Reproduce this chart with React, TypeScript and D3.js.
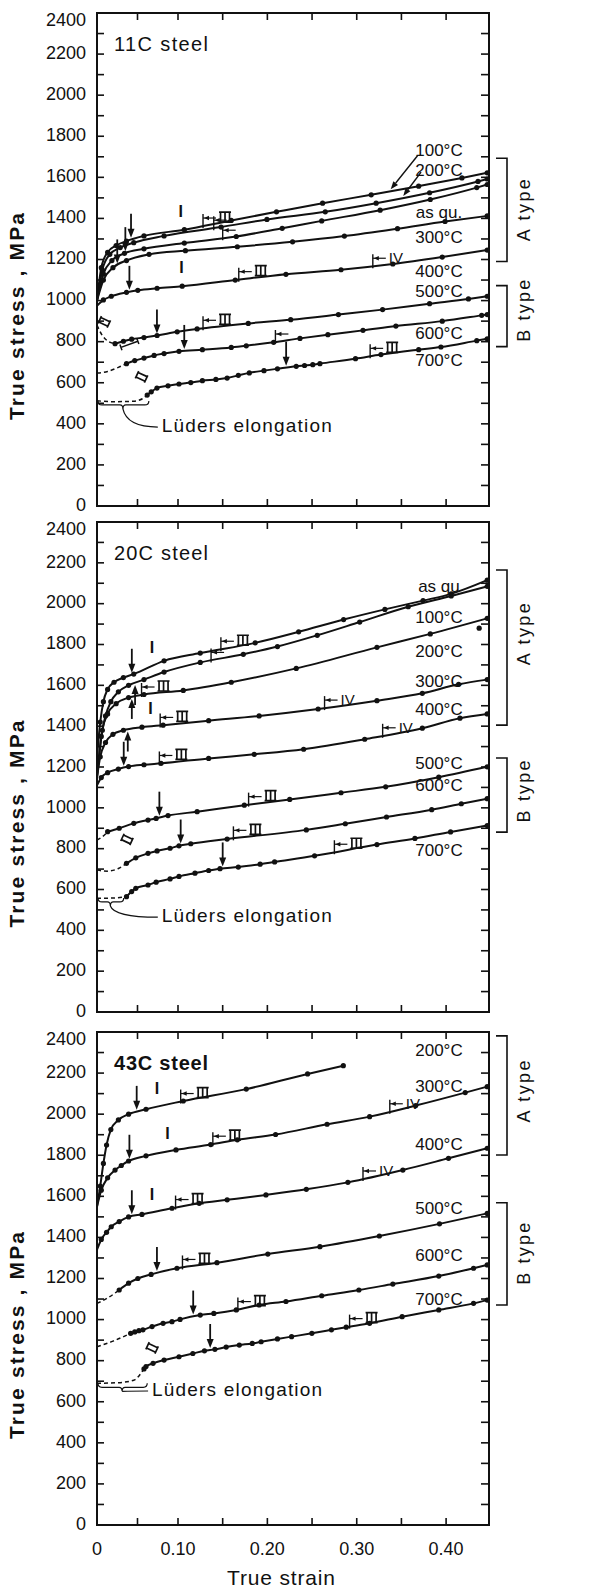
import React from 'react';
import * as d3 from 'd3';

type P = [number, number];

const strainTicks = [0, 0.1, 0.2, 0.3, 0.4];
const strainTickLabels = ['0', '0.10', '0.20', '0.30', '0.40'];
const stressTicks = [0, 200, 400, 600, 800, 1000, 1200, 1400, 1600, 1800, 2000, 2200, 2400];

// ---------- 11C steel ----------
const c11_100: P[] = [[0,1000],[0.0053,1160],[0.0131,1235],[0.0236,1268],[0.0364,1290],[0.058,1315],[0.1071,1345],[0.1596,1390],[0.2102,1432],[0.2618,1474],[0.3162,1515],[0.3693,1557],[0.4177,1597],[0.446,1622]];
const c11_200: P[] = [[0,1000],[0.0066,1150],[0.0158,1225],[0.0287,1258],[0.0454,1282],[0.0828,1315],[0.1482,1358],[0.1995,1395],[0.2648,1432],[0.3217,1474],[0.3815,1525],[0.4357,1580],[0.446,1592]];
const c11_asqu: P[] = [[0,1000],[0.0079,1130],[0.0184,1195],[0.0339,1230],[0.058,1252],[0.1071,1280],[0.1652,1312],[0.2166,1352],[0.2608,1388],[0.3262,1440],[0.3823,1492],[0.4343,1550],[0.446,1565]];
const c11_300: P[] = [[0,1000],[0.0079,1100],[0.0197,1160],[0.0364,1195],[0.0643,1225],[0.1083,1243],[0.1664,1262],[0.2282,1286],[0.2862,1314],[0.3456,1350],[0.3988,1385],[0.446,1412]];
const c11_400: P[] = [[0,975],[0.0079,1003],[0.0176,1021],[0.0364,1040],[0.0504,1050],[0.0742,1060],[0.1047,1070],[0.1641,1100],[0.2208,1128],[0.2824,1150],[0.3404,1178],[0.3957,1212],[0.446,1246]];
const c11_500d: P[] = [[0,880],[0.0066,830],[0.0144,800],[0.0223,790]];
const c11_500: P[] = [[0.0223,790],[0.0326,802],[0.0428,812],[0.058,820],[0.0742,830],[0.099,848],[0.1214,862],[0.1786,889],[0.2261,907],[0.2795,932],[0.3289,956],[0.3815,985],[0.425,1008],[0.446,1021]];
const c11_600d: P[] = [[0,647],[0.0131,655],[0.0264,675],[0.0364,693]];
const c11_600: P[] = [[0.0364,693],[0.0466,708],[0.058,720],[0.0705,733],[0.0828,742],[0.1011,753],[0.1273,761],[0.1596,772],[0.1764,780],[0.207,797],[0.2365,816],[0.2677,834],[0.307,855],[0.3438,876],[0.3957,900],[0.4398,928],[0.446,932]];
const c11_700d: P[] = [[0,512],[0.02,508],[0.045,510],[0.056,522],[0.062,540]];
const c11_700: P[] = [[0.062,540],[0.067,556],[0.074,574],[0.0877,585],[0.1011,594],[0.1143,601],[0.1273,610],[0.1424,616],[0.155,623],[0.1675,636],[0.1798,648],[0.1962,659],[0.2113,668],[0.2323,680],[0.2416,684],[0.2508,688],[0.2588,693],[0.2986,717],[0.3271,737],[0.3693,761],[0.3942,774],[0.4343,805],[0.446,814]];

const t11Labels: [string, number, number][] = [['100°C',0.392,1728],['200°C',0.392,1627],['as qu.',0.392,1424],['300°C',0.392,1302],['400°C',0.392,1137],['500°C',0.392,1039],['600°C',0.392,834],['700°C',0.392,702]];
// pointer: [from strain, from stress, series index, target strain]
const t11Pointers: [number, number, number, number][] = [[0.368,1705,0,0.338],[0.372,1625,1,0.352]];
const t11Arrows: [number, number][] = [[0,0.042],[2,0.035],[3,0.025],[4,0.04],[5,0.074],[6,0.107],[7,0.221]];
const t11Markers: [number, number, string][] = [[0,0.128,'III'],[1,0.14,''],[2,0.15,''],[4,0.168,'III'],[4,0.318,'IV'],[5,0.128,'III'],[6,0.209,''],[7,0.315,'III']];
const t11RomanI: [number, number][] = [[0,0.103],[4,0.104]];
const t11RomanII: P[] = [[0.009,896],[0.055,629]];
const t11RomanIb: P[] = [[0.04,787]];

// ---------- 20C steel ----------
const c20_asqu: P[] = [[0,1250],[0.004,1420],[0.0079,1520],[0.0131,1580],[0.021,1615],[0.0326,1638],[0.0454,1655],[0.0828,1720],[0.1249,1758],[0.1864,1808],[0.235,1862],[0.2853,1922],[0.3315,1972],[0.3742,2015],[0.4057,2048],[0.446,2115]];
const c20_100: P[] = [[0,1150],[0.0053,1350],[0.0105,1450],[0.0171,1520],[0.0264,1568],[0.039,1600],[0.058,1628],[0.0828,1665],[0.1249,1712],[0.1731,1752],[0.2113,1790],[0.2558,1845],[0.3033,1910],[0.3576,1985],[0.4057,2038],[0.446,2085]];
const c20_200: P[] = [[0,1150],[0.0066,1380],[0.0131,1460],[0.0236,1510],[0.039,1540],[0.058,1555],[0.1059,1575],[0.1596,1615],[0.2323,1683],[0.3226,1786],[0.3823,1852],[0.446,1928]];
const c20_300: P[] = [[0,1150],[0.004,1250],[0.0105,1320],[0.0197,1360],[0.0326,1380],[0.0555,1395],[0.0816,1405],[0.1343,1427],[0.1908,1450],[0.2568,1484],[0.3226,1525],[0.3734,1561],[0.414,1605],[0.446,1628]];
const c20_400: P[] = [[0,1110],[0.0053,1148],[0.0131,1172],[0.0264,1190],[0.039,1202],[0.058,1211],[0.0791,1218],[0.1343,1242],[0.1853,1262],[0.2406,1287],[0.3089,1336],[0.3734,1390],[0.4155,1439],[0.446,1460]];
const c20_500d: P[] = [[0,842],[0.0066,858],[0.0131,883]];
const c20_500: P[] = [[0.0131,883],[0.0274,900],[0.0454,924],[0.063,940],[0.073,948],[0.0877,962],[0.1214,981],[0.1742,1013],[0.225,1041],[0.2824,1074],[0.3324,1103],[0.3918,1150],[0.446,1201]];
const c20_600d: P[] = [[0,695],[0.0131,690],[0.0264,703],[0.0364,728]];
const c20_600: P[] = [[0.0364,728],[0.0479,755],[0.063,777],[0.0742,789],[0.0902,802],[0.1011,814],[0.1143,824],[0.155,847],[0.2436,892],[0.2872,922],[0.3333,955],[0.3839,991],[0.417,1020],[0.446,1045]];
const c20_700d: P[] = [[0,557],[0.0197,558],[0.0364,565]];
const c20_700: P[] = [[0.0364,565],[0.0428,590],[0.0479,606],[0.063,622],[0.073,636],[0.0902,652],[0.1011,664],[0.119,680],[0.1343,693],[0.147,702],[0.1675,710],[0.1919,724],[0.2081,735],[0.2528,765],[0.3226,820],[0.3651,850],[0.405,882],[0.446,913]];
const c20_stray: P[] = [[0.437,1880]];

const t20Labels: [string, number, number][] = [['as qu',0.392,2081],['100°C',0.392,1925],['200°C',0.392,1763],['300°C',0.392,1616],['400°C',0.392,1479],['500°C',0.392,1210],['600°C',0.392,1102],['700°C',0.392,788]];
const t20Arrows: [number, number][] = [[0,0.043],[4,0.033],[5,0.077],[6,0.103],[7,0.15]];
const t20ArrowsUp: [number, number][] = [[1,0.047],[2,0.043],[3,0.038]];
const t20Markers: [number, number, string][] = [[0,0.148,'III'],[1,0.137,''],[2,0.055,'III'],[3,0.078,'III'],[3,0.264,'IV'],[4,0.077,'III'],[4,0.329,'IV'],[5,0.179,'III'],[6,0.162,'III'],[7,0.275,'III']];
const t20RomanI: [number, number][] = [[0,0.068],[3,0.066]];
const t20RomanII: P[] = [[0.037,845]];
const t20RomanIb: P[] = [];

// ---------- 43C steel ----------
const c43_200: P[] = [[0,1550],[0.004,1650],[0.0079,1760],[0.0118,1850],[0.0171,1925],[0.0264,1972],[0.039,2000],[0.0605,2024],[0.1059,2064],[0.1764,2122],[0.245,2196],[0.285,2236]];
const c43_300: P[] = [[0,1550],[0.0053,1630],[0.0131,1690],[0.0223,1728],[0.03,1750],[0.039,1772],[0.0605,1797],[0.0975,1826],[0.1366,1852],[0.1664,1875],[0.2092,1901],[0.2668,1951],[0.3144,1988],[0.366,2042],[0.4214,2105],[0.446,2134]];
const c43_400: P[] = [[0,1340],[0.0053,1390],[0.0118,1425],[0.0176,1452],[0.0274,1477],[0.039,1500],[0.0555,1512],[0.0926,1542],[0.1237,1566],[0.155,1583],[0.1984,1607],[0.2436,1634],[0.2901,1668],[0.3516,1728],[0.4027,1785],[0.446,1834]];
const c43_500d: P[] = [[0,1079],[0.0131,1105],[0.0274,1144]];
const c43_500: P[] = [[0.0274,1144],[0.039,1177],[0.0504,1200],[0.0668,1220],[0.0987,1250],[0.1436,1277],[0.2005,1319],[0.2588,1355],[0.3253,1407],[0.3926,1466],[0.446,1517]];
const c43_600d: P[] = [[0,868],[0.0197,895],[0.0415,933]];
const c43_600: P[] = [[0.0415,933],[0.0466,940],[0.0517,946],[0.0567,950],[0.068,966],[0.0816,982],[0.0926,990],[0.1023,1001],[0.1249,1022],[0.1401,1030],[0.1652,1047],[0.1908,1071],[0.2208,1088],[0.2608,1116],[0.3024,1144],[0.3404,1173],[0.3918,1212],[0.4307,1250],[0.446,1266]];
const c43_700d: P[] = [[0,690],[0.0264,693],[0.0454,705],[0.058,760]];
const c43_700: P[] = [[0.058,760],[0.0605,771],[0.0692,787],[0.0828,803],[0.1011,819],[0.1166,835],[0.1296,848],[0.1413,855],[0.1539,866],[0.1686,876],[0.1831,884],[0.193,892],[0.2113,906],[0.2271,917],[0.2498,933],[0.2717,950],[0.2882,963],[0.3144,982],[0.3508,1014],[0.3918,1047],[0.4307,1079],[0.446,1095]];

const t43Labels: [string, number, number][] = [['200°C',0.392,2303],['300°C',0.392,2128],['400°C',0.392,1845],['500°C',0.392,1538],['600°C',0.392,1305],['700°C',0.392,1091]];
const t43Arrows: [number, number][] = [[0,0.049],[1,0.04],[2,0.043],[3,0.074],[4,0.117],[5,0.136]];
const t43Markers: [number, number, string][] = [[0,0.103,'III'],[1,0.139,'III'],[1,0.337,'IV'],[2,0.097,'III'],[2,0.307,'IV'],[3,0.105,'III'],[4,0.167,'III'],[5,0.292,'III']];
const t43RomanI: [number, number][] = [[0,0.074],[1,0.087],[2,0.068]];
const t43RomanII: P[] = [[0.068,862]];
const t43RomanIb: P[] = [];

interface Series { solid: P[]; dashed?: P[] }
interface PanelCfg {
  title: string; bold: boolean; top: number; bottom: number;
  series: Series[]; labels: [string, number, number][];
  pointers: [number, number, number, number][];
  arrowsDown: [number, number][]; arrowsUp: [number, number][]; markers: [number, number, string][];
  romanI: [number, number][]; romanII: P[]; romanIb: P[]; stray: P[];
  luders: { end: number; at: number; text: P };
  brackets: { name: string; hi: number; lo: number; mid: number }[];
}

const panels: PanelCfg[] = [
  {
    title: '11C steel', bold: false, top: 13, bottom: 506,
    series: [{ solid: c11_100 }, { solid: c11_200 }, { solid: c11_asqu }, { solid: c11_300 }, { solid: c11_400 },
      { solid: c11_500, dashed: c11_500d }, { solid: c11_600, dashed: c11_600d }, { solid: c11_700, dashed: c11_700d }],
    labels: t11Labels, pointers: t11Pointers, arrowsDown: t11Arrows, arrowsUp: [], markers: t11Markers,
    romanI: t11RomanI, romanII: t11RomanII, romanIb: t11RomanIb, stray: [],
    luders: { end: 0.064, at: 492, text: [0.08, 360] },
    brackets: [{ name: 'A type', hi: 1693, lo: 1190, mid: 1440 }, { name: 'B type', hi: 1073, lo: 776, mid: 950 }],
  },
  {
    title: '20C steel', bold: false, top: 522, bottom: 1012,
    series: [{ solid: c20_asqu }, { solid: c20_100 }, { solid: c20_200 }, { solid: c20_300 }, { solid: c20_400 },
      { solid: c20_500, dashed: c20_500d }, { solid: c20_600, dashed: c20_600d }, { solid: c20_700, dashed: c20_700d }],
    labels: t20Labels, pointers: [], arrowsDown: t20Arrows, arrowsUp: t20ArrowsUp, markers: t20Markers,
    romanI: t20RomanI, romanII: t20RomanII, romanIb: t20RomanIb, stray: c20_stray,
    luders: { end: 0.033, at: 539, text: [0.08, 440] },
    brackets: [{ name: 'A type', hi: 2165, lo: 1405, mid: 1850 }, { name: 'B type', hi: 1244, lo: 881, mid: 1080 }],
  },
  {
    title: '43C steel', bold: true, top: 1032, bottom: 1525,
    series: [{ solid: c43_200 }, { solid: c43_300 }, { solid: c43_400 },
      { solid: c43_500, dashed: c43_500d }, { solid: c43_600, dashed: c43_600d }, { solid: c43_700, dashed: c43_700d }],
    labels: t43Labels, pointers: [], arrowsDown: t43Arrows, arrowsUp: [], markers: t43Markers,
    romanI: t43RomanI, romanII: t43RomanII, romanIb: t43RomanIb, stray: [],
    luders: { end: 0.062, at: 670, text: [0.068, 628] },
    brackets: [{ name: 'A type', hi: 2381, lo: 1801, mid: 2110 }, { name: 'B type', hi: 1569, lo: 1071, mid: 1320 }],
  },
];

const W = 603, H = 1589;
const X0 = 97, X1 = 489;
const INK = '#111';
const SANS = '"Liberation Sans", Arial, sans-serif';
const x = d3.scaleLinear().domain([0, 0.1, 0.448]).range([X0, 178, X1]);

function valueAt(pts: P[], s: number): number {
  if (s <= pts[0][0]) return pts[0][1];
  for (let i = 1; i < pts.length; i++) {
    if (s <= pts[i][0]) {
      const [a, b] = [pts[i - 1], pts[i]];
      return a[1] + (b[1] - a[1]) * (s - a[0]) / (b[0] - a[0]);
    }
  }
  return pts[pts.length - 1][1];
}

function Ill({ cx, cy, n, rot = 0 }: { cx: number; cy: number; n: number; rot?: number }) {
  const w = n === 3 ? 12 : 8, h = 10;
  const bars = n === 3 ? [1.5, 6, 10.5] : [1.5, 6.5];
  let d = `M0,0H${w}M0,${h}H${w}`;
  bars.forEach(b => { d += `M${b},0V${h}`; });
  return (
    <path transform={`translate(${cx},${cy}) rotate(${rot}) translate(${-w / 2},${-h / 2})`} d={d}
      fill="none" stroke={INK} strokeWidth={1.7} />
  );
}

function Panel({ cfg, last }: { cfg: PanelCfg; last: boolean }) {
  const y = d3.scaleLinear().domain([0, 2400]).range([cfg.bottom, cfg.top]);
  const line = d3.line<P>().x(d => x(d[0])).y(d => y(d[1])).curve(d3.curveMonotoneX);
  const minorY = d3.range(100, 2400, 100);
  const minorX = d3.range(0.05, 0.44, 0.05);
  const mid = (cfg.top + cfg.bottom) / 2;
  const at = (si: number, s: number) => y(valueAt(cfg.series[si].solid, s));
  const lx = x(cfg.luders.end), ly = y(cfg.luders.at);
  const bx = x(0), bm = (bx + lx) / 2;
  const tx = x(cfg.luders.text[0]), ty = y(cfg.luders.text[1]);
  return (
    <g>
      <rect x={X0} y={cfg.top} width={X1 - X0} height={cfg.bottom - cfg.top} fill="none" stroke={INK} strokeWidth={2} />
      {minorY.map(v => (
        <g key={'y' + v}>
          <line x1={X0} x2={X0 + 7} y1={y(v)} y2={y(v)} stroke={INK} strokeWidth={1.6} />
          <line x1={X1} x2={X1 - 8} y1={y(v)} y2={y(v)} stroke={INK} strokeWidth={1.6} />
        </g>
      ))}
      {minorX.map(v => (
        <g key={'x' + v}>
          <line x1={x(v)} x2={x(v)} y1={cfg.top} y2={cfg.top + 7} stroke={INK} strokeWidth={1.6} />
          <line x1={x(v)} x2={x(v)} y1={cfg.bottom} y2={cfg.bottom - 7} stroke={INK} strokeWidth={1.6} />
        </g>
      ))}
      {stressTicks.map(v => (
        <text key={'l' + v} x={86} y={y(v) + (v === 2400 ? 8 : 0)} textAnchor="end" dominantBaseline="middle"
          fontFamily={SANS} fontSize={18} fill={INK}>{v}</text>
      ))}
      {last && strainTicks.map((v, i) => (
        <text key={'s' + v} x={x(v)} y={1550} textAnchor="middle" dominantBaseline="middle"
          fontFamily={SANS} fontSize={18} fill={INK}>{strainTickLabels[i]}</text>
      ))}
      <text transform={`translate(18,${mid + 57}) rotate(-90)`} textAnchor="middle" dominantBaseline="middle"
        fontFamily={SANS} fontSize={21} fontWeight="bold" fill={INK} textLength={207} lengthAdjust="spacing">True stress , MPa</text>
      <text x={114} y={cfg.top + 38} fontFamily={SANS} fontSize={20} fontWeight={cfg.bold ? 'bold' : 'normal'} fill={INK}
        textLength={94} lengthAdjust="spacing">{cfg.title}</text>

      {cfg.series.map((s, i) => (
        <g key={'c' + i}>
          {s.dashed && <path d={line(s.dashed) || ''} fill="none" stroke={INK} strokeWidth={1.5} strokeDasharray="4,3" />}
          <path d={line(s.solid) || ''} fill="none" stroke={INK} strokeWidth={2} />
          {s.solid.filter(p => p[0] > 0.001).map((p, j) => (
            <circle key={j} cx={x(p[0])} cy={y(p[1])} r={2.6} fill={INK} />
          ))}
        </g>
      ))}
      {cfg.stray.map((p, i) => <circle key={'st' + i} cx={x(p[0])} cy={y(p[1])} r={2.6} fill={INK} />)}

      {cfg.labels.map(([t, s, v]) => (
        <text key={t} x={x(s)} y={y(v)} textAnchor="middle" dominantBaseline="middle" fontFamily={SANS} fontSize={17} fill={INK}>{t}</text>
      ))}
      {cfg.pointers.map((p, i) => {
        const x1 = x(p[0]), y1 = y(p[1]), x2 = x(p[3]), y2 = at(p[2], p[3]) - 2;
        const a = Math.atan2(y2 - y1, x2 - x1);
        const l = 8, w = 3;
        const bxp = x2 - l * Math.cos(a), byp = y2 - l * Math.sin(a);
        return (
          <g key={'pt' + i}>
            <line x1={x1} y1={y1} x2={bxp} y2={byp} stroke={INK} strokeWidth={1.4} />
            <path d={`M${x2},${y2}L${bxp - w * Math.sin(a)},${byp + w * Math.cos(a)}L${bxp + w * Math.sin(a)},${byp - w * Math.cos(a)}Z`} fill={INK} />
          </g>
        );
      })}

      {cfg.arrowsDown.map(([si, s], i) => {
        const ax = x(s), ay = at(si, s) - 2;
        return (
          <g key={'ad' + i}>
            <line x1={ax} x2={ax} y1={ay - 24} y2={ay - 6} stroke={INK} strokeWidth={1.8} />
            <path d={`M${ax},${ay}L${ax - 3.5},${ay - 9}L${ax + 3.5},${ay - 9}Z`} fill={INK} />
          </g>
        );
      })}
      {cfg.arrowsUp.map(([si, s], i) => {
        const ax = x(s), ay = at(si, s) + 2;
        return (
          <g key={'au' + i}>
            <line x1={ax} x2={ax} y1={ay + 20} y2={ay + 6} stroke={INK} strokeWidth={1.8} />
            <path d={`M${ax},${ay}L${ax - 3.5},${ay + 9}L${ax + 3.5},${ay + 9}Z`} fill={INK} />
          </g>
        );
      })}
      {cfg.markers.map(([si, s, t], i) => {
        const mx = x(s), my = at(si, s);
        return (
          <g key={'m' + i}>
            <line x1={mx} x2={mx} y1={my + 2} y2={my - 12} stroke={INK} strokeWidth={1.4} />
            <line x1={mx} x2={mx + 13} y1={my - 8} y2={my - 8} stroke={INK} strokeWidth={1.2} />
            <path d={`M${mx + 1},${my - 8}l5,-2.2l0,4.4z`} fill={INK} />
            {t === 'III' && <Ill cx={mx + 22} cy={my - 9} n={3} />}
            {t === 'IV' && <text x={mx + 16} y={my - 3} fontFamily={SANS} fontSize={15} fill={INK}>IV</text>}
          </g>
        );
      })}
      {cfg.romanI.map(([si, s], i) => (
        <text key={'r1' + i} x={x(s)} y={at(si, s) - 17} textAnchor="middle" dominantBaseline="middle"
          fontFamily={SANS} fontSize={16} fontWeight="bold" fill={INK}>I</text>
      ))}
      {cfg.romanII.map(([s, v], i) => <Ill key={'r2' + i} cx={x(s)} cy={y(v)} n={2} rot={-65} />)}
      {cfg.romanIb.map(([s, v], i) => (
        <path key={'rb' + i} transform={`translate(${x(s)},${y(v)}) rotate(-20)`} d="M-9,-3V3M-9,0H9M9,-3V3"
          fill="none" stroke={INK} strokeWidth={1.5} />
      ))}

      <path d={`M${bx + 1},${ly - 4}Q${bx + 1},${ly} ${bx + 5},${ly}L${bm - 3},${ly}Q${bm},${ly} ${bm},${ly + 4}Q${bm},${ly} ${bm + 3},${ly}L${lx - 4},${ly}Q${lx},${ly} ${lx},${ly - 4}`}
        fill="none" stroke={INK} strokeWidth={1.2} />
      <path d={`M${bm},${ly + 4}Q${bm + 4},${ty - 5} ${tx - 4},${ty - 5}`} fill="none" stroke={INK} strokeWidth={1.2} />
      <text x={tx} y={ty} fontFamily={SANS} fontSize={19} fill={INK} textLength={170} lengthAdjust="spacing">Lüders elongation</text>

      {cfg.brackets.map(b => (
        <g key={b.name}>
          <path d={`M496,${y(b.hi)}H507V${y(b.lo)}H496`} fill="none" stroke={INK} strokeWidth={1.6} />
          <text transform={`translate(525,${y(b.mid)}) rotate(-90)`} textAnchor="middle" dominantBaseline="middle"
            fontFamily={SANS} fontSize={18} fill={INK} textLength={62} lengthAdjust="spacing">{b.name}</text>
        </g>
      ))}
    </g>
  );
}

export default function App() {
  return (
    <div style={{ position: 'absolute', left: 0, top: 0, background: '#fff' }}>
      <svg width={W} height={H} viewBox={`0 0 ${W} ${H}`} style={{ display: 'block', background: '#fff' }}>
        {panels.map((p, i) => <Panel key={i} cfg={p} last={i === panels.length - 1} />)}
        <text x={281} y={1585} textAnchor="middle" fontFamily={SANS} fontSize={21} fill={INK}
          textLength={108} lengthAdjust="spacing">True strain</text>
      </svg>
    </div>
  );
}
